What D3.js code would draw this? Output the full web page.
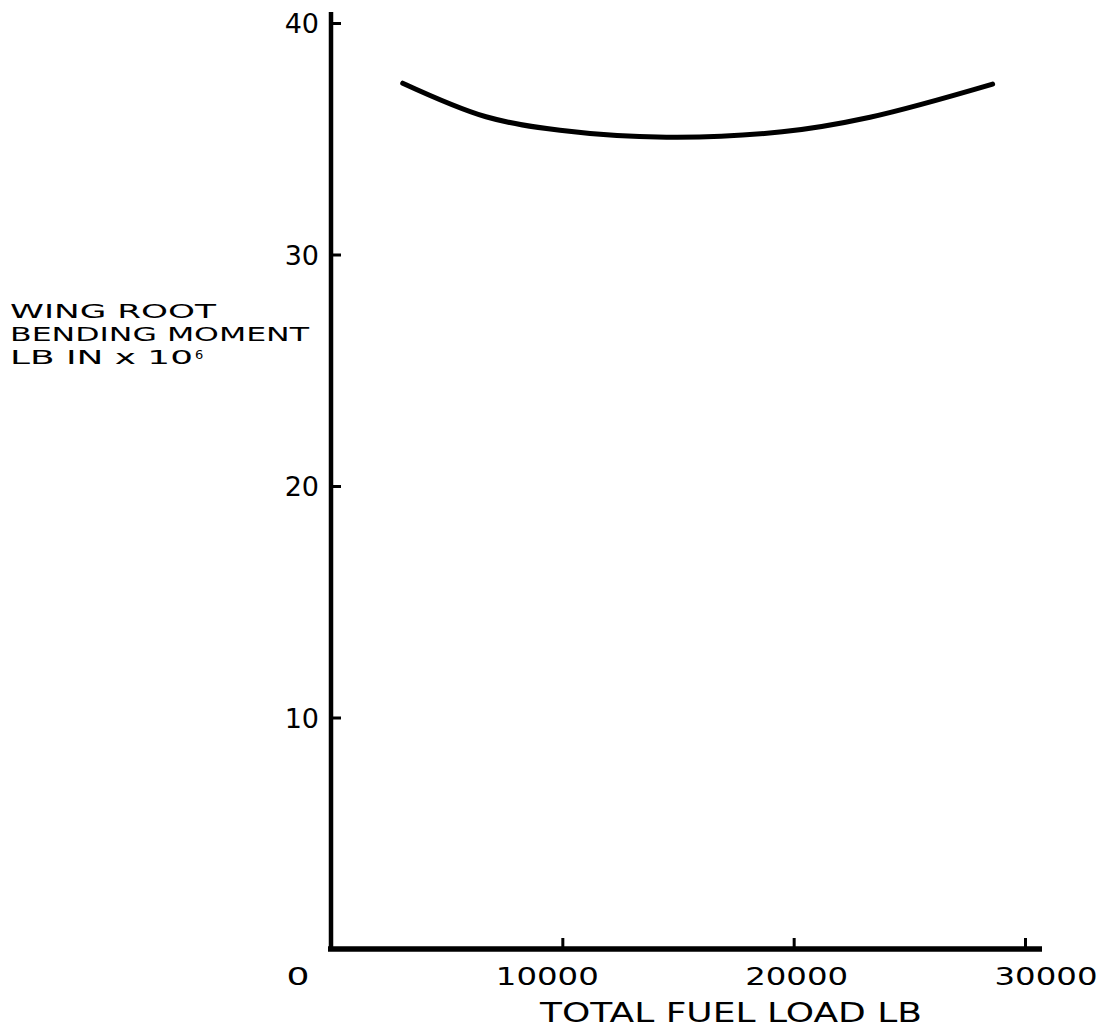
<!DOCTYPE html>
<html>
<head>
<meta charset="utf-8">
<script src="https://cdn.jsdelivr.net/npm/d3@7"></script>
<style>
  html, body { margin: 0; padding: 0; background: #fff; }
  svg { display: block; }
  text { font-family: "DejaVu Sans", sans-serif; fill: #000; }
</style>
</head>
<body>
<svg id="chart" width="1107" height="1033"></svg>
<script>
// Wing root bending moment vs total fuel load
const fuelLoad = [3100, 6700, 9900, 14500, 19500, 23300, 28600];        // lb
const bendingMoment = [37.4, 35.95, 35.37, 35.07, 35.3, 35.93, 37.36];  // lb in x 10^6

const xTicks = [0, 10000, 20000, 30000];
const xTickLabels = ["0", "10000", "20000", "30000"];
const yTicks = [10, 20, 30, 40];
const yTickLabels = ["10", "20", "30", "40"];

const yTitleLines = ["WING  ROOT", "BENDING MOMENT", "LB IN x 10"];
const xTitle = "TOTAL  FUEL  LOAD  LB";

const svg = d3.select("#chart");

const x = d3.scaleLinear().domain([0, 30000]).range([331, 1025]);
const y = d3.scaleLinear().domain([0, 40]).range([949, 23]);
// hand-lettered tick numbers sit a little off their tick marks
const xLabel = d3.scaleLinear().domain([0, 30000]).range([298, 1046]);

const axisStroke = 4.5;

// vertical axis line, running a bit above the top tick
svg.append("line")
  .attr("x1", x(0)).attr("x2", x(0))
  .attr("y1", y(0) + 1).attr("y2", y(40) - 11)
  .attr("stroke", "#000").attr("stroke-width", axisStroke);

// horizontal axis line, running past the last tick
svg.append("line")
  .attr("x1", x(0) - 3).attr("x2", x(30000) + 17)
  .attr("y1", y(0)).attr("y2", y(0))
  .attr("stroke", "#000").attr("stroke-width", axisStroke + 1);

// y ticks point into the plot, labels to the left
const yAxis = d3.axisLeft(y)
  .tickValues(yTicks)
  .tickFormat((d, i) => yTickLabels[i])
  .tickSizeInner(-10)
  .tickSizeOuter(0)
  .tickPadding(12);

const gy = svg.append("g").attr("transform", `translate(${x(0)},0)`).call(yAxis);
gy.select(".domain").remove();
gy.selectAll(".tick line").attr("stroke", "#000").attr("stroke-width", 3);
gy.selectAll(".tick text")
  .attr("font-size", 27)
  .attr("font-family", "DejaVu Sans, sans-serif")
  .attr("fill", "#000")
  .attr("dy", "0.36em");

// x ticks point up into the plot
const xAxis = d3.axisBottom(x)
  .tickValues(xTicks.filter(d => d > 0))
  .tickFormat("")
  .tickSizeInner(-11)
  .tickSizeOuter(0);

const gx = svg.append("g").attr("transform", `translate(0,${y(0)})`).call(xAxis);
gx.select(".domain").remove();
gx.selectAll(".tick line").attr("stroke", "#000").attr("stroke-width", 3);

// x tick numbers
svg.append("g").selectAll("text")
  .data(xTicks)
  .join("text")
  .attr("x", d => xLabel(d))
  .attr("y", y(0) + 36)
  .attr("text-anchor", "middle")
  .attr("font-size", 24)
  .attr("textLength", (d, i) => xTickLabels[i].length === 1 ? 23 : 103)
  .attr("lengthAdjust", "spacingAndGlyphs")
  .text((d, i) => xTickLabels[i]);

// x axis title
svg.append("text")
  .attr("x", 540)
  .attr("y", 1022)
  .attr("font-size", 27)
  .attr("textLength", 382)
  .attr("lengthAdjust", "spacingAndGlyphs")
  .text(xTitle);

// y axis title, three lines at the left
const yTitle = svg.append("g");
const yTitleWidths = [206, 299, 183];
const yTitlePitch = 23;
yTitle.selectAll("text")
  .data(yTitleLines)
  .join("text")
  .attr("x", 10)
  .attr("y", (d, i) => 318 + i * yTitlePitch)
  .attr("font-size", 20)
  .attr("textLength", (d, i) => yTitleWidths[i])
  .attr("lengthAdjust", "spacingAndGlyphs")
  .text(d => d);
// exponent on the unit line
yTitle.append("text")
  .attr("x", 10 + yTitleWidths[2] + 2)
  .attr("y", 318 + 2 * yTitlePitch - 5)
  .attr("font-size", 13)
  .text("6");

// the curve
const line = d3.line()
  .x(d => x(d[0]))
  .y(d => y(d[1]))
  .curve(d3.curveCatmullRom.alpha(0.5));

svg.append("path")
  .datum(d3.zip(fuelLoad, bendingMoment))
  .attr("d", line)
  .attr("fill", "none")
  .attr("stroke", "#000")
  .attr("stroke-width", 5)
  .attr("stroke-linecap", "round");
</script>
</body>
</html>
